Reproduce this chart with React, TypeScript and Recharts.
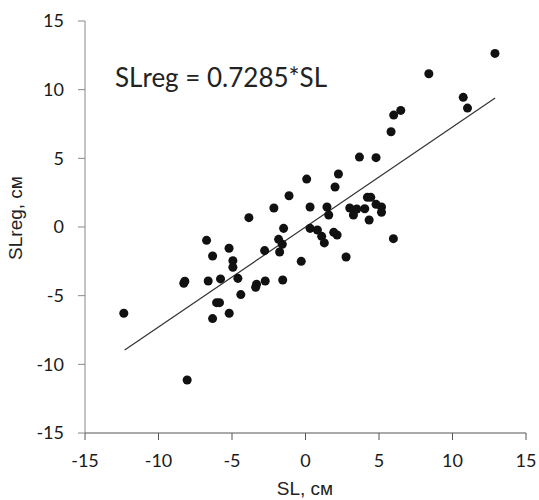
import React from 'react';
import {
  ScatterChart,
  Scatter,
  XAxis,
  YAxis,
  ZAxis,
  ReferenceLine,
  Label,
  Customized,
} from 'recharts';

const slX: number[] = [
  12.89, 8.39, 10.73, 11.02, 6.48, 6.0, 5.82, 3.67, 4.8, 2.24,
  0.08, 2.01, -1.12, -2.15, 0.31, 1.46, 1.58, 3.01, 3.49, 3.26,
  -3.85, -1.49, 0.31, 0.81, 1.1, 1.92, 2.15, 1.28, -1.83, -1.58,
  -2.78, -1.76, -0.29, 2.76, -5.2, -4.94, -4.94, 4.21, 4.44, 4.03,
  4.8, 5.17, 5.17, 4.33, 5.98, -6.73, -6.32, -8.21, -8.28, -6.62,
  -5.78, -4.6, -12.36, -6.05, -5.85, -5.19, -6.32, -8.05, -4.4, -3.33,
  -3.39, -2.74, -1.55,
];

const slRegY: number[] = [
  12.64, 11.16, 9.44, 8.66, 8.49, 8.15, 6.94, 5.09, 5.05, 3.86,
  3.49, 2.91, 2.28, 1.38, 1.46, 1.46, 0.87, 1.38, 1.31, 0.87,
  0.68, -0.1, -0.1, -0.22, -0.68, -0.39, -0.58, -1.16, -0.9, -1.26,
  -1.72, -1.82, -2.5, -2.18, -1.55, -2.45, -2.93, 2.16, 2.16, 1.33,
  1.65, 1.46, 1.07, 0.51, -0.85, -0.97, -2.11, -3.95, -4.1, -3.93,
  -3.78, -3.74, -6.28, -5.51, -5.51, -6.28, -6.67, -11.14, -4.92, -4.17,
  -4.39, -3.93, -3.86,
];

const slope = 0.7285;
const lineX: number[] = [-12.3, 12.9];
const ticks: number[] = [-15, -10, -5, 0, 5, 10, 15];
const equationText = 'SLreg = 0.7285*SL';
const xTitle = 'SL, см';
const yTitle = 'SLreg, см';

const points = slX.map((x, i) => ({ x, y: slRegY[i] }));

const tickStyle = { fontFamily: 'Lato, sans-serif', fontSize: 18, fill: '#1a1a1a' };

export default function App() {
  return (
    <div style={{ position: 'absolute', left: 0, top: 0, background: '#fff' }}>
      <ScatterChart
        width={539}
        height={500}
        margin={{ top: 21, right: 13, bottom: 0, left: 0 }}
      >
        <XAxis
          type="number"
          dataKey="x"
          domain={[-15, 15]}
          ticks={ticks}
          tickSize={7}
          tickMargin={14}
          stroke="#555"
          tick={tickStyle}
          height={67}
          allowDataOverflow
        >
          <Label
            content={() => (
              <text
                x={305}
                y={495}
                textAnchor="middle"
                style={{ fontFamily: 'Liberation Sans, Arial, sans-serif', fontSize: 19, fill: '#222' }}
              >
                {xTitle}
              </text>
            )}
          />
        </XAxis>
        <YAxis
          type="number"
          dataKey="y"
          domain={[-15, 15]}
          ticks={ticks}
          tickSize={7}
          tickMargin={14}
          stroke="#888"
          tick={tickStyle}
          width={85}
          allowDataOverflow
        >
          <Label
            content={() => (
              <text
                x={22}
                y={218}
                transform="rotate(-90, 22, 218)"
                textAnchor="middle"
                style={{ fontFamily: 'Liberation Sans, Arial, sans-serif', fontSize: 19, fill: '#222' }}
              >
                {yTitle}
              </text>
            )}
          />
        </YAxis>
        <ZAxis range={[19, 19]} />
        <ReferenceLine
          segment={[
            { x: lineX[0], y: slope * lineX[0] },
            { x: lineX[1], y: slope * lineX[1] },
          ]}
          stroke="#333"
          strokeWidth={1.2}
        />
        <Scatter data={points} fill="#111" isAnimationActive={false} />
        <Customized
          component={() => (
            <text
              x={115}
              y={87}
              style={{ fontFamily: 'Lato, sans-serif', fontSize: 26, fill: '#222' }}
            >
              {equationText}
            </text>
          )}
        />
      </ScatterChart>
    </div>
  );
}
